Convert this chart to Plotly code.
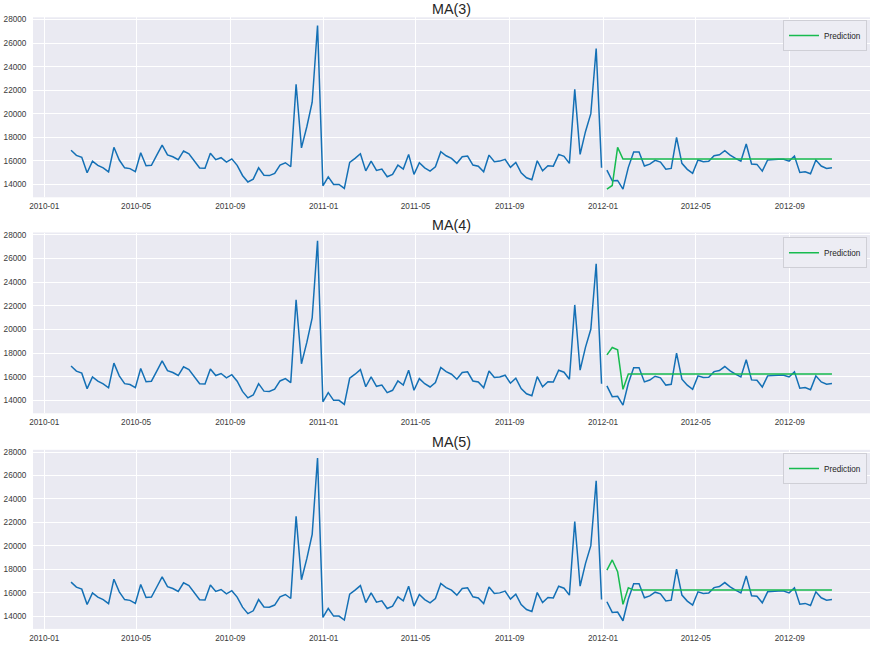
import pandas as pd
import plotly.graph_objects as go

# ---- data ----
train_start = "2010-02-05"
test_start = "2012-01-06"

train_sales = [
    16900, 16470, 16300, 14990, 15980, 15620, 15400, 15060, 17150, 16070,
    15410, 15340, 15080, 16690, 15580, 15620, 16480, 17340, 16510, 16350,
    16100, 16840, 16600, 15990, 15400, 15380, 16650, 16100, 16270, 15900,
    16170, 15620, 14760, 14210, 14450, 15410, 14780, 14750, 14940, 15640,
    15840, 15500, 22510, 17100, 18900, 20980, 27500, 13880, 14650, 14000,
    14000, 13660, 15870, 16210, 16600, 15150, 15980, 15190, 15300, 14650,
    14850, 15640, 15300, 16550, 14850, 15840, 15410, 15130, 15500, 16780,
    16430, 16210, 15790, 16350, 16410, 15640, 15550, 15070, 16490, 15930,
    15980, 16130, 15450, 15870, 14990, 14560, 14390, 16010, 15150, 15580,
    15550, 16550, 16380, 15790, 22070, 16550, 18480, 20010, 25540, 15410,
]

test_sales = [
    15220, 14310, 14340, 13600, 15450, 16750, 16760, 15560, 15720, 16040,
    15900, 15290, 15360, 18000, 15790, 15280, 14940, 16070, 15930, 15960,
    16430, 16520, 16860, 16490, 16210, 15980, 17430, 15730, 15700, 15130,
    16070, 16130, 16130, 16130, 15980, 16410, 15020, 15080, 14900, 16070,
    15560, 15360, 15420,
]

pred_ma3 = [
    13600, 13910, 17150, 16150, 16150, 16150, 16150, 16150, 16150, 16150,
    16150, 16150, 16150, 16150, 16150, 16150, 16150, 16150, 16150, 16150,
    16150, 16150, 16150, 16150, 16150, 16150, 16150, 16150, 16150, 16150,
    16150, 16150, 16150, 16150, 16150, 16150, 16150, 16150, 16150, 16150,
    16150, 16150, 16150,
]
pred_ma4 = [
    17850, 18470, 18270, 14930, 16230, 16230, 16230, 16230, 16230, 16230,
    16230, 16230, 16230, 16230, 16230, 16230, 16230, 16230, 16230, 16230,
    16230, 16230, 16230, 16230, 16230, 16230, 16230, 16230, 16230, 16230,
    16230, 16230, 16230, 16230, 16230, 16230, 16230, 16230, 16230, 16230,
    16230, 16230, 16230,
]
pred_ma5 = [
    17930, 18790, 17790, 15000, 16420, 16220, 16220, 16220, 16220, 16220,
    16220, 16220, 16220, 16220, 16220, 16220, 16220, 16220, 16220, 16220,
    16220, 16220, 16220, 16220, 16220, 16220, 16220, 16220, 16220, 16220,
    16220, 16220, 16220, 16220, 16220, 16220, 16220, 16220, 16220, 16220,
    16220, 16220, 16220,
]

titles = ["MA(3)", "MA(4)", "MA(5)"]
predictions = [pred_ma3, pred_ma4, pred_ma5]

train_dates = pd.date_range(train_start, periods=len(train_sales), freq="7D")
test_dates = pd.date_range(test_start, periods=len(test_sales), freq="7D")

# ---- style ----
BLUE = "#1470b5"
GREEN = "#17bb4f"
BG = "#EAEAF2"
FONT = "Liberation Sans, Arial, sans-serif"
TICK_COLOR = "#3a3a3a"
W, H = 874, 646

# plot-area pixel boxes (top, bottom) for each panel
panel_px = [(17.3, 197.3), (232.5, 413.3), (449.8, 628.9)]
legend_top_px = [20, 237.3, 453]
title_px = [9.5, 225, 441.5]

fig = go.Figure()

# axis ranges, matplotlib-style 5% margins
all_dates = list(train_dates) + list(test_dates)
x0, x1 = min(all_dates), max(all_dates)
xpad = (x1 - x0) * 0.05
xrange = [x0 - xpad, x1 + xpad]

for k in range(3):
    vals = train_sales + test_sales + predictions[k]
    lo, hi = min(vals), max(vals)
    ypad = (hi - lo) * 0.05
    yrange = [lo - ypad, hi + ypad]

    xa = "x" if k == 0 else f"x{k+1}"
    ya = "y" if k == 0 else f"y{k+1}"
    lg = "legend" if k == 0 else f"legend{k+1}"

    fig.add_trace(go.Scatter(x=train_dates, y=train_sales, mode="lines",
                             line=dict(color=BLUE, width=1.5), showlegend=False,
                             xaxis=xa, yaxis=ya, name="Train"))
    fig.add_trace(go.Scatter(x=test_dates, y=test_sales, mode="lines",
                             line=dict(color=BLUE, width=1.5), showlegend=False,
                             xaxis=xa, yaxis=ya, name="Test"))
    fig.add_trace(go.Scatter(x=test_dates, y=predictions[k], mode="lines",
                             line=dict(color=GREEN, width=1.5), showlegend=True,
                             xaxis=xa, yaxis=ya, name="Prediction", legend=lg))

    top, bot = panel_px[k]
    dom = [1 - bot / H, 1 - top / H]
    xkey = "xaxis" if k == 0 else f"xaxis{k+1}"
    ykey = "yaxis" if k == 0 else f"yaxis{k+1}"
    fig.layout[xkey] = dict(
        domain=[0, 1], anchor=ya, range=xrange, type="date",
        tick0="2010-01-01", dtick="M4", tickformat="%Y-%m",
        showgrid=True, gridcolor="white", gridwidth=1, zeroline=False,
        showline=False, ticks="outside", ticklen=1, tickcolor="rgba(0,0,0,0)",
        tickfont=dict(family=FONT, size=8.2, color=TICK_COLOR), automargin=False,
    )
    fig.layout[ykey] = dict(
        domain=dom, anchor=xa, range=yrange, tick0=14000, dtick=2000,
        showgrid=True, gridcolor="white", gridwidth=1, zeroline=False,
        showline=False, ticks="outside", ticklen=4, tickcolor="rgba(0,0,0,0)",
        tickformat="d",
        tickfont=dict(family=FONT, size=8.2, color=TICK_COLOR), automargin=False,
    )
    fig.layout[lg] = dict(
        x=0.9964, xanchor="right", y=1 - legend_top_px[k] / H, yanchor="top",
        bgcolor="#EDEDF4", bordercolor="#CFCFD6", borderwidth=1,
        font=dict(family=FONT, size=8.2, color="#262626"),
        itemwidth=30, tracegroupgap=0,
    )
    fig.add_annotation(
        text=titles[k], xref="paper", yref="paper", x=0.5, y=1 - title_px[k] / H,
        xanchor="center", yanchor="middle", showarrow=False,
        font=dict(family=FONT, size=14.3, color="#262626"),
    )

fig.update_layout(
    width=W, height=H, autosize=False,
    margin=dict(l=33, r=4, t=0, b=0),
    paper_bgcolor="white", plot_bgcolor=BG,
)

fig.write_html("out.html")
